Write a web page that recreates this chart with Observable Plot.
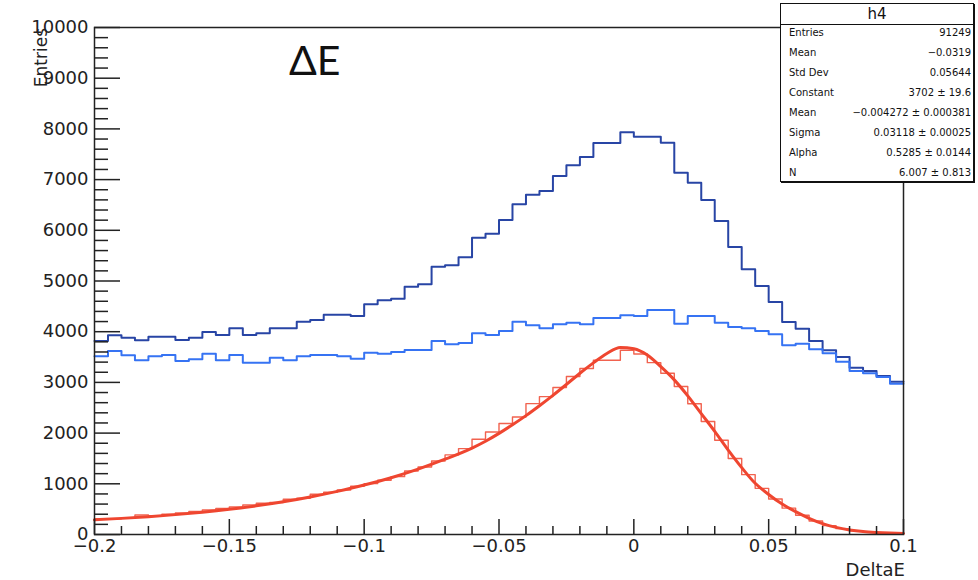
<!DOCTYPE html>
<html>
<head>
<meta charset="utf-8">
<script src="https://cdn.jsdelivr.net/npm/d3@7"></script>
<script src="https://cdn.jsdelivr.net/npm/@observablehq/plot@0.6"></script>
<style>
  body { margin: 0; background: #fff; }
  #wrap { position: relative; width: 978px; height: 580px; overflow: hidden; font-family: "DejaVu Sans", sans-serif; }
  #stats { position: absolute; left: 780px; top: 3px; width: 192px; height: 177px; border: 1.5px solid #111; background: #fff; box-shadow: 1px 1px 0 #111; color: #111; }
  #stats .title { height: 20px; border-bottom: 1.2px solid #111; text-align: center; font-size: 15px; line-height: 20px; }
  #stats .row { display: flex; justify-content: space-between; height: 20px; line-height: 16px; font-size: 10px; padding: 0 2px 0 8px; }
</style>
</head>
<body>
<div id="wrap"><div id="chart"></div><div id="stats"></div></div>
<script>
// ---- data ----
const xMin = -0.2, xMax = 0.1, binWidth = 0.005;

const darkBlueCounts = [
  3817, 3929, 3882, 3830, 3902, 3902, 3836, 3882, 3994, 3935,
  4067, 3935, 3968, 4067, 4067, 4198, 4231, 4336, 4336, 4310,
  4540, 4619, 4651, 4888, 4935, 5282, 5309, 5467, 5854, 5933,
  6203, 6513, 6703, 6775, 7071, 7282, 7446, 7722, 7722, 7933,
  7846, 7846, 7728, 7136, 6939, 6598, 6183, 5671, 5231, 4901,
  4586, 4191, 4060, 3817, 3633, 3501, 3290, 3225, 3126, 3014
];
const blueCounts = [
  3515, 3619, 3534, 3436, 3515, 3540, 3422, 3455, 3566, 3436,
  3540, 3389, 3389, 3488, 3436, 3515, 3540, 3540, 3515, 3468,
  3586, 3566, 3600, 3639, 3639, 3817, 3751, 3777, 3968, 3935,
  4014, 4198, 4126, 4067, 4146, 4178, 4146, 4270, 4270, 4323,
  4310, 4428, 4428, 4158, 4310, 4310, 4178, 4093, 4067, 4014,
  3949, 3732, 3764, 3653, 3574, 3409, 3225, 3180, 3107, 2975
];
const redCounts = [
  306, 312, 332, 385, 372, 398, 424, 457, 484, 516,
  543, 582, 615, 632, 694, 714, 793, 832, 878, 951,
  1003, 1069, 1141, 1253, 1332, 1451, 1570, 1694, 1878, 2023,
  2188, 2319, 2582, 2720, 2898, 3115, 3273, 3438, 3438, 3635,
  3560, 3390, 3180, 2920, 2580, 2230, 1860, 1500, 1180, 910,
  700, 520, 380, 265, 175, 115, 72, 48, 35, 25
];
const fitX = [-0.2, -0.19, -0.18, -0.17, -0.16, -0.15, -0.14, -0.13, -0.12, -0.11,
  -0.1, -0.09, -0.08, -0.07, -0.06, -0.055, -0.05, -0.045, -0.04, -0.035,
  -0.03, -0.025, -0.02, -0.015, -0.01, -0.005, 0, 0.005, 0.01, 0.015,
  0.02, 0.025, 0.03, 0.035, 0.04, 0.045, 0.05, 0.055, 0.06, 0.065,
  0.07, 0.075, 0.08, 0.085, 0.09, 0.095, 0.1];
const fitY = [290, 318, 352, 392, 440, 497, 565, 645, 740, 850,
  975, 1120, 1290, 1485, 1705, 1840, 1995, 2165, 2345, 2540,
  2745, 2960, 3180, 3385, 3570, 3690, 3665, 3540, 3310, 3050,
  2735, 2385, 2035, 1665, 1320, 1010, 790, 600, 450, 320,
  215, 140, 90, 58, 40, 28, 20];

const xMajorTicks = [-0.2, -0.15, -0.1, -0.05, 0, 0.05, 0.1];
const xMinorTicks = [-0.19, -0.18, -0.17, -0.16, -0.14, -0.13, -0.12, -0.11, -0.09, -0.08,
  -0.07, -0.06, -0.04, -0.03, -0.02, -0.01, 0.01, 0.02, 0.03, 0.04, 0.06, 0.07, 0.08, 0.09];
const yMajorTicks = [0, 1000, 2000, 3000, 4000, 5000, 6000, 7000, 8000, 9000, 10000];
const yMinorTicks = d3.range(0, 10000, 200).filter(v => v % 1000 !== 0);

const xTitle = "DeltaE";
const yTitle = "Entries";
const annotation = "ΔE";
const statsTitle = "h4";
const statsLabels = ["Entries", "Mean", "Std Dev", "Constant", "Mean", "Sigma", "Alpha", "N"];
const statsValues = ["91249", "\u22120.0319", "0.05644", "3702 \u00b1 19.6", "\u22120.004272 \u00b1 0.000381",
  "0.03118 \u00b1 0.00025", "0.5285 \u00b1 0.0144", "6.007 \u00b1 0.813"];

// ---- styling ----
const W = 978, H = 580;
const M = {top: 27, right: 75, bottom: 46, left: 94};
const plotW = W - M.left - M.right, plotH = H - M.top - M.bottom;
const DARK = "#2845a5", BLUE = "#3673f3", RED = "#ef4630", AXIS = "#222";

function steps(counts) {
  const pts = counts.map((c, i) => ({x: xMin + i * binWidth, y: c}));
  pts.push({x: xMin + counts.length * binWidth, y: counts[counts.length - 1]});
  return pts;
}
const fitData = fitX.map((x, i) => ({x, y: fitY[i]}));

const svg = Plot.plot({
  width: W, height: H,
  marginTop: M.top, marginRight: M.right, marginBottom: M.bottom, marginLeft: M.left,
  style: {fontFamily: "DejaVu Sans, sans-serif", fontSize: "18px", color: AXIS, background: "white"},
  x: {domain: [xMin, xMax], label: null},
  y: {domain: [0, 10000], label: null},
  marks: [
    Plot.line(steps(darkBlueCounts), {x: "x", y: "y", curve: "step-after", stroke: DARK, strokeWidth: 2}),
    Plot.line(steps(blueCounts), {x: "x", y: "y", curve: "step-after", stroke: BLUE, strokeWidth: 2}),
    Plot.line(steps(redCounts), {x: "x", y: "y", curve: "step-after", stroke: RED, strokeWidth: 1.4, strokeOpacity: 0.85}),
    Plot.line(fitData, {x: "x", y: "y", curve: "monotone-x", stroke: RED, strokeWidth: 3}),
    Plot.ruleX(xMinorTicks, {insetTop: plotH - 8, stroke: AXIS, strokeWidth: 1.5}),
    Plot.ruleX(xMajorTicks, {insetTop: plotH - 15, stroke: AXIS, strokeWidth: 1.5}),
    Plot.ruleY(yMinorTicks, {insetRight: plotW - 14, stroke: AXIS, strokeWidth: 1.5}),
    Plot.ruleY(yMajorTicks, {insetRight: plotW - 26, stroke: AXIS, strokeWidth: 1.5}),
    Plot.axisX(xMajorTicks, {tickSize: 0, tickPadding: 5, fontSize: 18, tickFormat: d => d === 0 ? "0" : d3.format("")(d)}),
    Plot.axisY(yMajorTicks, {tickSize: 0, tickPadding: 6, fontSize: 18, tickFormat: d3.format("d")}),
    Plot.frame({stroke: AXIS, strokeWidth: 1.5})
  ]
});
document.getElementById("chart").appendChild(svg);

const s = d3.select(svg);
s.append("text").attr("x", M.left + plotW + 2).attr("y", 576)
  .attr("text-anchor", "end").attr("font-size", 18).attr("fill", AXIS).text(xTitle);
s.append("text").attr("transform", `translate(47, ${M.top + 1}) rotate(-90)`)
  .attr("text-anchor", "end").attr("font-size", 17).attr("fill", AXIS).text(yTitle);
s.append("text").attr("x", 289).attr("y", 75).attr("text-anchor", "start")
  .attr("font-family", "Lato, 'Open Sans', sans-serif").attr("font-size", 41).attr("fill", "#111").text(annotation);

const stats = d3.select("#stats");
stats.append("div").attr("class", "title").text(statsTitle);
statsLabels.forEach((lab, i) => {
  const row = stats.append("div").attr("class", "row");
  row.append("span").text(lab);
  row.append("span").text(statsValues[i]);
});
</script>
</body>
</html>
